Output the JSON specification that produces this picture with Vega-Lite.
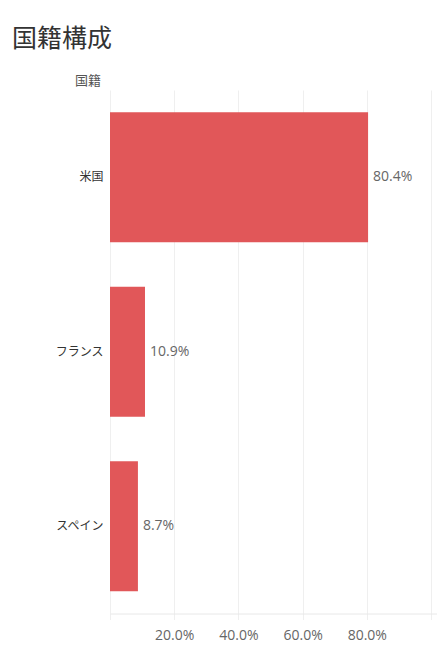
{
  "$schema": "https://vega.github.io/schema/vega-lite/v6.json",
  "autosize": {"type": "none"},
  "padding": {"left": 110, "top": 90, "right": 0, "bottom": 45},
  "width": 327,
  "height": 523.5,
  "background": "#ffffff",
  "title": {
    "text": "国籍構成",
    "anchor": "start",
    "frame": "group",
    "dx": -98,
    "offset": 3,
    "fontSize": 25,
    "fontWeight": "normal",
    "font": "Noto Sans CJK JP",
    "color": "#333333",
    "baseline": "alphabetic"
  },
  "data": {
    "values": [
      {"国籍": "米国", "割合": 0.804},
      {"国籍": "フランス", "割合": 0.109},
      {"国籍": "スペイン", "割合": 0.087}
    ]
  },
  "encoding": {
    "y": {
      "field": "国籍",
      "type": "nominal",
      "sort": null,
      "scale": {"paddingInner": 0.255, "paddingOuter": 0.1275},
      "axis": {
        "title": "国籍",
        "titleAngle": 0,
        "titleAlign": "center",
        "titleBaseline": "middle",
        "titleX": -22.5,
        "titleY": -9.5,
        "titleFont": "Noto Sans CJK JP",
        "titleFontSize": 13,
        "titleFontWeight": "normal",
        "titleColor": "#555555",
        "labelFont": "Noto Sans CJK JP",
        "labelFontSize": 12,
        "labelColor": "#333333",
        "labelPadding": 7,
        "ticks": false,
        "domain": false,
        "grid": false
      }
    },
    "x": {
      "field": "割合",
      "type": "quantitative",
      "scale": {"domain": [0, 1.0187], "nice": false},
      "axis": {
        "title": null,
        "values": [0, 0.2, 0.4, 0.6, 0.8, 1.0],
        "labelExpr": "datum.value > 0.05 && datum.value < 0.95 ? format(datum.value, '.1%') : ''",
        "labelFont": "Open Sans",
        "labelFontSize": 14,
        "labelColor": "#666666",
        "labelPadding": 9,
        "grid": true,
        "gridColor": "#efefef",
        "domainColor": "#e8e8e8",
        "tickColor": "#efefef",
        "tickSize": 6
      }
    }
  },
  "layer": [
    {"mark": {"type": "bar", "color": "#E15759"}},
    {
      "mark": {
        "type": "text",
        "align": "left",
        "baseline": "middle",
        "dx": 5,
        "font": "Open Sans",
        "fontSize": 14,
        "color": "#666666"
      },
      "encoding": {
        "text": {"field": "割合", "type": "quantitative", "format": ".1%"}
      }
    }
  ],
  "config": {"view": {"stroke": null}}
}
